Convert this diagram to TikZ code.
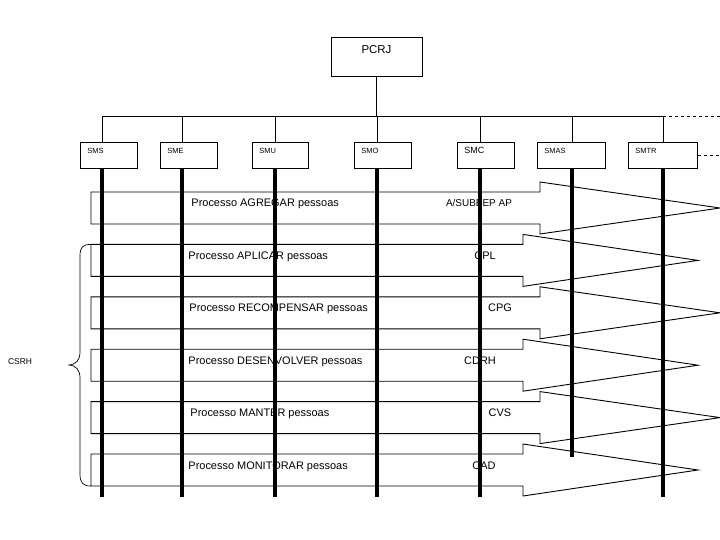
\documentclass[tikz,border=0pt]{standalone}
\usepackage{fontspec}
\setmainfont{Liberation Sans}
\begin{document}
\begin{tikzpicture}[x=1bp,y=-1bp,line width=0.9bp,
    orgbox/.style={draw,anchor=north west,align=left,inner xsep=7bp,inner ysep=5bp,text height=6bp,text depth=10bp,font=\fontsize{7.5}{9}\selectfont},
    lifeline/.style={line width=3.6bp},
    proclabel/.style={anchor=base west,inner sep=0pt,font=\fontsize{11}{13}\selectfont},
    siglabel/.style={anchor=base,inner sep=0pt,font=\fontsize{11}{13}\selectfont}]
  \useasboundingbox[fill=white] (0,0) rectangle (720,540);
  % top of the chart
  \node[draw,anchor=north,minimum width=91bp,inner ysep=7bp,text height=9bp,text depth=16bp,font=\fontsize{11.5}{13}\selectfont] (pcrj) at (376.5,37) {PCRJ};
  \node[orgbox,text width=43bp] (sms) at (80,142) {SMS};
  \node[orgbox,text width=43bp] (sme) at (160,142) {SME};
  \node[orgbox,text width=42bp] (smu) at (252,142) {SMU};
  \node[orgbox,text width=43bp] (smo) at (354,142) {SMO};
  \node[orgbox,text width=43bp,font=\fontsize{9}{11}\selectfont] (smc) at (457,142) {SMC};
  \node[orgbox,text width=54bp] (smas) at (537,142) {SMAS};
  \node[orgbox,text width=55bp] (smtr) at (628,142) {SMTR};
  \coordinate (bus) at (376.5,116);
  \coordinate (busend) at (720,116);
  \coordinate (d1) at (102,116);
  \coordinate (d2) at (182,116);
  \coordinate (d3) at (275,116);
  \coordinate (d4) at (377,116);
  \coordinate (d5) at (480,116);
  \coordinate (d6) at (572,116);
  \coordinate (d7) at (663,116);
  \draw (pcrj.south) -- (pcrj.south |- bus);
  \draw (d1) -- (d7);
  \draw[dashed] (d7) -- (busend);
  \draw[dashed] (smtr.east) -- (smtr.east -| busend);
  \foreach \d/\b in {d1/sms,d2/sme,d3/smu,d4/smo,d5/smc,d6/smas,d7/smtr}
    \draw (\d) -- (\d |- \b.north);
  % process bars
  \foreach \c/\xr/\xt in {208/540/720,260.4/523/698,312.8/540/720,365.2/523/698,417.6/540/720,470/523/698}
    \draw (91,\c-16) -- (\xr,\c-16) -- (\xr,\c-26) -- (\xt,\c) -- (\xr,\c+26) -- (\xr,\c+16) -- (91,\c+16) -- cycle;
  \node[proclabel] (agregar) at (191,207) {Processo AGREGAR pessoas};
  \node[proclabel] (aplicar) at (188,259.4) {Processo APLICAR pessoas};
  \node[proclabel] (recompensar) at (189,311.8) {Processo RECOMPENSAR pessoas};
  \node[proclabel] (desenvolver) at (188,364.2) {Processo DESENVOLVER pessoas};
  \node[proclabel] (manter) at (190,416.6) {Processo MANTER pessoas};
  \node[proclabel] (monitorar) at (188,469) {Processo MONITORAR pessoas};
  \node[siglabel,font=\fontsize{10}{12}\selectfont] (subeep) at (479,207) {A/SUBEEP AP};
  \node[siglabel] (cpl) at (485,259.4) {CPL};
  \node[siglabel] (cpg) at (500,311.8) {CPG};
  \node[siglabel] (cdrh) at (480,364.2) {CDRH};
  \node[siglabel] (cvs) at (500,416.6) {CVS};
  \node[siglabel] (cad) at (484,469) {CAD};
  % CSRH brace
  \node[font=\fontsize{8.5}{10}\selectfont] (csrh) at (20,362) {CSRH};
  \draw[line width=0.7bp] (91,244.4) .. controls (83,244.4) and (80,247) .. (80,256) -- (80,352) .. controls (80,360) and (76,365) .. (68,365) .. controls (76,365) and (80,370) .. (80,378) -- (80,474) .. controls (80,483) and (83,486) .. (91,486);
  % lifelines
  \coordinate (bottom) at (0,497);
  \coordinate (smasend) at (0,457);
  \foreach \d/\b in {d1/sms,d2/sme,d3/smu,d4/smo,d5/smc,d7/smtr}
    \draw[lifeline] (\d |- \b.south) -- (\d |- bottom);
  \draw[lifeline] (d6 |- smas.south) -- (d6 |- smasend);
\end{tikzpicture}
\end{document}
